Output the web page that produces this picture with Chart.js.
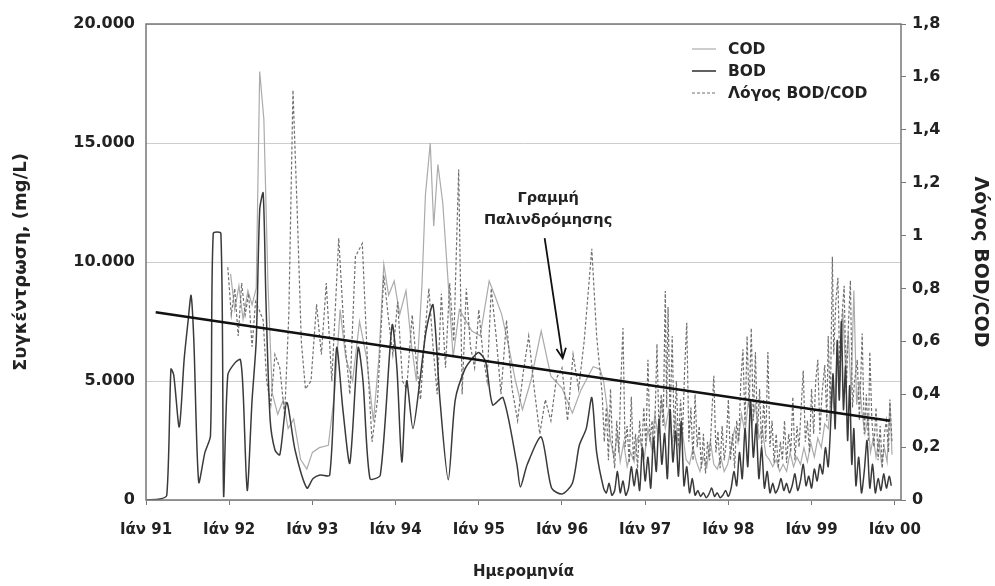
<!DOCTYPE html>
<html>
<head>
<meta charset="utf-8">
<script src="https://cdn.jsdelivr.net/npm/chart.js@4.4.0/dist/chart.umd.min.js"></script>
<style>
  html, body { margin: 0; padding: 0; background: #fff; }
</style>
</head>
<body>
<canvas id="chart" width="995" height="586"></canvas>
<script>
// x values are months since Jan 1991
const yearTicks = [0, 12, 24, 36, 48, 60, 72, 84, 96, 108];
const yearLabels = ['Ιάν 91', 'Ιάν 92', 'Ιάν 93', 'Ιάν 94', 'Ιάν 95', 'Ιάν 96', 'Ιάν 97', 'Ιάν 98', 'Ιάν 99', 'Ιάν 00'];
const concTicks = [0, 5000, 10000, 15000, 20000];
const concLabels = ['0', '5.000', '10.000', '15.000', '20.000'];
const ratioTicks = [0, 0.2, 0.4, 0.6, 0.8, 1, 1.2, 1.4, 1.6, 1.8];
const ratioLabels = ['0', '0,2', '0,4', '0,6', '0,8', '1', '1,2', '1,4', '1,6', '1,8'];

// COD (mg/L), 1992 - mid 1996
const codMonthsA = [12.2, 12.8, 13.4, 14.0, 14.7, 15.3, 15.9, 16.4, 17.0, 17.6, 18.2, 19.0, 19.8, 20.5, 21.3, 22.3, 23.2, 24.0, 25.0, 26.3,
  27.2, 28.0, 28.8, 29.8, 30.8, 31.8, 32.8, 33.6, 34.3, 35.0, 35.8, 36.6, 37.5, 38.3, 39.0, 39.8, 40.3, 41.0, 41.5, 42.1,
  42.8, 43.5, 44.3, 45.2, 46.0, 47.0, 48.2, 49.5, 50.3, 51.3, 52.2, 53.3, 54.3, 55.5, 57.0, 58.4, 60.0, 61.5, 62.7, 64.5, 65.5];
const codValuesA = [9500, 8000, 9000, 7600, 8800, 8200, 8900, 18000, 16000, 9000, 4500, 3600, 4200, 3000, 3400, 1700, 1300, 2000, 2200, 2300,
  4500, 8000, 6000, 5000, 7500, 6000, 3300, 6000, 9900, 8600, 9200, 7800, 8800, 6500, 5000, 9000, 12800, 15000, 11500, 14100,
  12500, 9500, 6000, 8000, 7600, 7100, 6900, 9200, 8600, 7800, 6600, 5000, 3800, 5000, 7100, 5200, 4700, 3650, 4600, 5600, 5500];
// COD (mg/L), mid 1996 - 2000
const codMonthsB = [66.0, 66.5, 67.0, 67.5, 68.0, 68.4, 68.9, 69.4, 69.9, 70.4, 70.9, 71.4, 71.9, 72.4, 72.9, 73.4, 73.9, 74.4, 74.9, 75.4,
  75.9, 76.4, 76.9, 77.4, 77.9, 78.4, 78.9, 79.4, 79.9, 80.4, 80.9, 81.4, 81.9, 82.4, 82.9, 83.4, 83.9, 84.4, 84.9, 85.4,
  85.9, 86.4, 86.9, 87.4, 87.9, 88.4, 88.9, 89.4, 89.9, 90.4, 90.9, 91.4, 91.9, 92.4, 92.9, 93.4, 93.9, 94.4, 94.9, 95.4,
  95.9, 96.4, 96.9, 97.4, 97.9, 98.4, 98.9, 99.3, 99.7, 100.1, 100.5, 100.9, 101.3, 101.7, 102.1, 102.5, 102.9, 103.3, 103.7, 104.1,
  104.5, 104.9, 105.3, 105.7, 106.1, 106.5, 106.9, 107.3, 107.6];
const codValuesB = [5000, 3900, 2500, 1800, 2800, 1600, 2400, 1400, 2000, 1600, 2600, 2400, 1800, 3000, 2200, 3600, 2600, 4200, 3000, 3800,
  2400, 3400, 2000, 2800, 1700, 1500, 2200, 1600, 1200, 1800, 1400, 2500, 1500, 1300, 1800, 1200, 1500, 2200, 3000, 2400,
  3600, 2800, 4200, 3200, 4000, 2600, 3000, 1900, 1700, 1400, 1700, 1200, 1500, 1200, 2000, 1400, 1800, 1500, 2200, 1600,
  2400, 1800, 2600, 2200, 3200, 3000, 4600, 3800, 6300, 5200, 8000, 5500, 7000, 4500, 8800, 4000, 5000, 3600, 2800, 3400,
  2000, 2600, 1800, 2500, 1500, 2200, 1600, 4100, 1900];

// BOD (mg/L), 1991 - mid 1996
const bodMonthsA = [0, 2, 3, 3.6, 4.0, 4.8, 5.5, 6.1, 6.5, 6.9, 7.6, 8.5, 9.3, 9.7, 10.8, 11.2, 11.8, 12.8, 13.6, 14.0,
  14.6, 15.3, 15.9, 16.4, 16.9, 17.3, 17.9, 18.6, 19.3, 20.3, 21.5, 23.2, 24.1, 25.1, 26.5, 27.5, 28.4, 29.4, 30.6, 31.3,
  32.3, 33.8, 35.5, 36.2, 36.9, 37.6, 38.5, 39.5, 40.4, 41.4, 42.4, 43.6, 44.6, 46.0, 47.2, 48.0, 49.0, 50.0, 51.5, 53.5,
  54.0, 55.0, 57.0, 58.5, 60.0, 61.5, 62.5, 63.5, 64.3, 65.0];
const bodValuesA = [0, 40, 200, 5500, 5250, 3070, 5900, 7600, 8600, 6700, 750, 2000, 2700, 11200, 11200, 150, 5250, 5750, 5900, 4600,
  400, 4200, 6700, 12200, 12900, 8400, 3400, 2100, 1900, 4100, 2100, 500, 900, 1050, 1050, 6400, 3800, 1550, 6400, 5000,
  900, 1050, 7350, 5500, 1600, 5000, 3000, 5000, 7100, 8200, 4200, 850, 4200, 5500, 6000, 6200, 5800, 4000, 4300, 1500,
  550, 1500, 2650, 500, 250, 700, 2300, 3000, 4300, 2000];
// BOD (mg/L), mid 1996 - 2000
const bodMonthsB = [66.0, 66.4, 66.8, 67.2, 67.6, 68.0, 68.4, 68.8, 69.2, 69.6, 70.0, 70.4, 70.8, 71.2, 71.6, 72.0, 72.4, 72.8, 73.2, 73.6,
  74.0, 74.4, 74.8, 75.2, 75.6, 76.0, 76.4, 76.8, 77.2, 77.6, 78.0, 78.4, 78.8, 79.2, 79.6, 80.0, 80.4, 80.8, 81.2, 81.6,
  82.0, 82.4, 82.8, 83.2, 83.6, 84.0, 84.4, 84.8, 85.2, 85.6, 86.0, 86.4, 86.8, 87.2, 87.6, 88.0, 88.4, 88.8, 89.2, 89.6,
  90.0, 90.4, 90.8, 91.2, 91.6, 92.0, 92.4, 92.8, 93.2, 93.6, 94.0, 94.4, 94.8, 95.2, 95.6, 96.0, 96.4, 96.8, 97.2, 97.6,
  98.0, 98.4, 98.8, 99.1, 99.4, 99.7, 100.0, 100.3, 100.6, 100.9, 101.2, 101.5, 101.8, 102.1, 102.4, 102.8, 103.2, 103.6, 104.0, 104.4,
  104.8, 105.2, 105.6, 106.0, 106.4, 106.8, 107.2, 107.5];
const bodValuesB = [500, 300, 700, 200, 400, 1200, 300, 800, 200, 500, 1400, 600, 1300, 400, 2200, 800, 1800, 500, 2600, 1200,
  3400, 1500, 2800, 900, 3800, 1600, 2900, 1000, 3300, 600, 1400, 300, 900, 200, 400, 150, 300, 100, 250, 500,
  150, 300, 100, 200, 400, 150, 500, 1200, 600, 2000, 900, 3000, 1400, 4200, 1800, 3200, 900, 2200, 500, 1200,
  300, 700, 300, 500, 900, 400, 700, 300, 600, 1100, 400, 800, 1500, 600, 1000, 500, 1300, 800, 1500, 1100,
  2200, 1400, 3500, 5300, 3000, 6700, 4200, 7500, 3800, 5600, 2500, 4800, 1500, 3000, 600, 1800, 300, 1200, 2500, 500,
  1500, 300, 900, 400, 1100, 500, 1000, 600];

// BOD/COD ratio (right axis), 1992 - mid 1996
const ratioMonthsA = [11.8, 12.3, 12.8, 13.3, 13.8, 14.3, 14.8, 15.3, 15.8, 16.3, 16.9, 17.4, 18.0, 18.6, 19.3, 20.0, 20.6, 21.2, 21.8, 22.4,
  23.0, 23.8, 24.6, 25.3, 26.0, 26.8, 27.8, 28.6, 29.4, 30.2, 31.2, 31.9, 32.6, 33.4, 34.3, 35.0, 35.6, 36.3, 37.0, 37.6,
  38.4, 39.0, 39.6, 40.2, 40.8, 41.4, 42.0, 42.6, 43.2, 43.8, 44.4, 45.1, 45.6, 46.2, 46.8, 47.4, 48.0, 48.6, 49.2, 49.8,
  50.5, 51.2, 52.0, 52.8, 53.6, 54.4, 55.2, 56.0, 56.8, 57.6, 58.4, 59.2, 60.0, 60.8, 61.6, 62.4, 63.2, 64.3, 65.0];
const ratioValuesA = [0.88, 0.70, 0.80, 0.62, 0.82, 0.70, 0.78, 0.58, 0.75, 0.72, 0.68, 0.45, 0.36, 0.55, 0.50, 0.32, 0.70, 1.55, 1.10, 0.60,
  0.42, 0.45, 0.74, 0.55, 0.82, 0.45, 0.99, 0.62, 0.40, 0.92, 0.97, 0.55, 0.22, 0.38, 0.85, 0.68, 0.55, 0.75, 0.45, 0.42,
  0.70, 0.52, 0.38, 0.62, 0.80, 0.58, 0.40, 0.78, 0.50, 0.82, 0.60, 1.25, 0.40, 0.80, 0.58, 0.50, 0.72, 0.55, 0.45, 0.80,
  0.62, 0.40, 0.68, 0.42, 0.30, 0.48, 0.62, 0.42, 0.25, 0.38, 0.30, 0.46, 0.50, 0.30, 0.55, 0.42, 0.60, 0.95, 0.62];
// BOD/COD ratio, mid 1996 - 2000
const ratioMonthsB = [65.8, 66.1, 66.4, 66.7, 67.0, 67.3, 67.6, 67.9, 68.2, 68.5, 68.8, 69.1, 69.4, 69.7, 70.0, 70.3, 70.6, 70.9, 71.2, 71.5,
  71.8, 72.1, 72.4, 72.7, 73.0, 73.3, 73.7, 74.0, 74.3, 74.6, 74.9, 75.1, 75.3, 75.6, 75.9, 76.2, 76.5, 76.8, 77.1, 77.4,
  77.7, 78.0, 78.3, 78.6, 78.9, 79.2, 79.5, 79.8, 80.1, 80.4, 80.7, 81.0, 81.3, 81.6, 81.9, 82.2, 82.5, 82.8, 83.1, 83.4,
  83.7, 84.0, 84.3, 84.6, 84.9, 85.2, 85.5, 85.8, 86.1, 86.4, 86.7, 87.0, 87.3, 87.6, 87.9, 88.2, 88.5, 88.8, 89.1, 89.4,
  89.7, 90.0, 90.3, 90.6, 90.9, 91.2, 91.5, 91.8, 92.1, 92.4, 92.7, 93.0, 93.3, 93.6, 93.9, 94.2, 94.5, 94.8, 95.1, 95.4,
  95.7, 96.0, 96.3, 96.6, 96.9, 97.2, 97.5, 97.9, 98.2, 98.4, 98.7, 99.0, 99.2, 99.5, 99.8, 100.1, 100.4, 100.7, 101.0, 101.3,
  101.6, 101.9, 102.2, 102.6, 102.9, 103.3, 103.6, 103.9, 104.2, 104.4, 104.7, 105.0, 105.3, 105.6, 105.9, 106.2, 106.5, 106.8, 107.1, 107.3,
  107.6];
const ratioValuesB = [0.40, 0.22, 0.35, 0.15, 0.42, 0.20, 0.12, 0.30, 0.18, 0.45, 0.65, 0.20, 0.28, 0.14, 0.39, 0.15, 0.25, 0.12, 0.30, 0.18,
  0.35, 0.20, 0.53, 0.22, 0.30, 0.18, 0.59, 0.25, 0.40, 0.28, 0.79, 0.35, 0.73, 0.30, 0.62, 0.22, 0.45, 0.20, 0.38, 0.25,
  0.50, 0.67, 0.22, 0.35, 0.15, 0.40, 0.20, 0.28, 0.12, 0.25, 0.10, 0.22, 0.15, 0.32, 0.47, 0.18, 0.26, 0.12, 0.28, 0.15,
  0.22, 0.38, 0.15, 0.25, 0.12, 0.30, 0.22, 0.45, 0.57, 0.28, 0.62, 0.35, 0.65, 0.30, 0.56, 0.25, 0.42, 0.20, 0.38, 0.22,
  0.56, 0.20, 0.30, 0.14, 0.25, 0.12, 0.22, 0.15, 0.30, 0.14, 0.25, 0.18, 0.39, 0.15, 0.28, 0.20, 0.35, 0.49, 0.22, 0.30,
  0.18, 0.42, 0.25, 0.45, 0.53, 0.25, 0.40, 0.51, 0.30, 0.62, 0.35, 0.92, 0.55, 0.75, 0.84, 0.45, 0.70, 0.81, 0.40, 0.65,
  0.83, 0.35, 0.45, 0.53, 0.30, 0.63, 0.25, 0.40, 0.22, 0.56, 0.30, 0.20, 0.35, 0.15, 0.28, 0.12, 0.25, 0.30, 0.18, 0.38,
  0.22];

// regression line of the ratio (right axis)
const trendMonths = [1.4, 107.3];
const trendValues = [0.71, 0.30];

// annotation: label anchor and arrow, in (month, mg/L)
const noteLines = ['Γραμμή', 'Παλινδρόμησης'];
const noteAt = [58.0, 12700];
const arrowFrom = [57.5, 11000];
const arrowTo = [60.1, 5960];

const FONT = '"DejaVu Sans", "Liberation Sans", Arial, sans-serif';
const TEXT = '#222';
const yTickFont = { family: FONT, size: 16, weight: 'bold' };
const xTickFont = { family: FONT, size: 15, weight: 'bold' };

function pts(xs, ys) {
  return xs.map((x, i) => ({ x: x, y: ys[i] }));
}

const COD_COLOR = '#ababab';
const BOD_COLOR = '#3a3a3a';
const RATIO_COLOR = '#707070';

const legendItems = [
  { text: 'COD', color: COD_COLOR, width: 1.2, dash: [] },
  { text: 'BOD', color: BOD_COLOR, width: 1.6, dash: [] },
  { text: 'Λόγος BOD/COD', color: RATIO_COLOR, width: 1.2, dash: [3, 2] }
];

// frame, legend and the regression note
const extras = {
  id: 'extras',
  afterDatasetsDraw(chart) {
    const { ctx, chartArea: a, scales } = chart;
    ctx.save();
    ctx.strokeStyle = '#777';
    ctx.lineWidth = 1.5;
    ctx.strokeRect(a.left, a.top, a.right - a.left, a.bottom - a.top);

    // note text
    ctx.fillStyle = TEXT;
    ctx.font = 'bold 14.5px ' + FONT;
    ctx.textAlign = 'center';
    ctx.textBaseline = 'middle';
    const nx = scales.x.getPixelForValue(noteAt[0]);
    const ny = scales.y.getPixelForValue(noteAt[1]);
    noteLines.forEach((t, i) => ctx.fillText(t, nx, ny + i * 22));

    // arrow
    const x1 = scales.x.getPixelForValue(arrowFrom[0]), y1 = scales.y.getPixelForValue(arrowFrom[1]);
    const x2 = scales.x.getPixelForValue(arrowTo[0]), y2 = scales.y.getPixelForValue(arrowTo[1]);
    ctx.strokeStyle = '#111';
    ctx.lineWidth = 1.8;
    ctx.beginPath();
    ctx.moveTo(x1, y1);
    ctx.lineTo(x2, y2);
    const ang = Math.atan2(y2 - y1, x2 - x1);
    ctx.moveTo(x2 - 11 * Math.cos(ang - 0.45), y2 - 11 * Math.sin(ang - 0.45));
    ctx.lineTo(x2, y2);
    ctx.lineTo(x2 - 11 * Math.cos(ang + 0.45), y2 - 11 * Math.sin(ang + 0.45));
    ctx.stroke();

    // legend
    ctx.textAlign = 'left';
    ctx.font = 'bold 15.5px ' + FONT;
    legendItems.forEach((it, i) => {
      const ly = a.top + 25 + i * 22;
      ctx.strokeStyle = it.color;
      ctx.lineWidth = it.width;
      ctx.setLineDash(it.dash);
      ctx.beginPath();
      ctx.moveTo(a.right - 209, ly);
      ctx.lineTo(a.right - 185, ly);
      ctx.stroke();
      ctx.setLineDash([]);
      ctx.fillStyle = TEXT;
      ctx.fillText(it.text, a.right - 173, ly + 1);
    });
    ctx.restore();
  }
};

new Chart(document.getElementById('chart'), {
  type: 'line',
  data: {
    datasets: [
      {
        label: 'Γραμμή Παλινδρόμησης',
        data: pts(trendMonths, trendValues),
        yAxisID: 'y2',
        borderColor: '#111',
        borderWidth: 2.6,
        pointRadius: 0
      },
      {
        label: 'BOD',
        data: pts(bodMonthsA.concat(bodMonthsB), bodValuesA.concat(bodValuesB)),
        yAxisID: 'y',
        borderColor: BOD_COLOR,
        borderWidth: 1.5,
        pointRadius: 0,
        tension: 0.25
      },
      {
        label: 'Λόγος BOD/COD',
        data: pts(ratioMonthsA.concat(ratioMonthsB), ratioValuesA.concat(ratioValuesB)),
        yAxisID: 'y2',
        borderColor: RATIO_COLOR,
        borderWidth: 1.2,
        borderDash: [3, 2],
        pointRadius: 0
      },
      {
        label: 'COD',
        data: pts(codMonthsA.concat(codMonthsB), codValuesA.concat(codValuesB)),
        yAxisID: 'y',
        borderColor: COD_COLOR,
        borderWidth: 1.2,
        pointRadius: 0
      }
    ]
  },
  options: {
    responsive: false,
    animation: false,
    layout: { padding: { top: 24, left: 0, right: 0, bottom: 0 } },
    plugins: {
      legend: { display: false },
      tooltip: { enabled: false }
    },
    scales: {
      x: {
        type: 'linear',
        min: 0,
        max: 108.9,
        afterBuildTicks: s => { s.ticks = yearTicks.map(v => ({ value: v })); },
        afterFit: s => { s.height = 86; },
        grid: { drawOnChartArea: false, drawTicks: true, tickLength: 5, color: '#777' },
        border: { display: false },
        ticks: {
          padding: 16, maxRotation: 0, autoSkip: false,
          font: xTickFont, color: TEXT,
          callback: (v, i) => yearLabels[i]
        },
        title: { display: true, text: 'Ημερομηνία', font: { family: FONT, size: 15, weight: 'bold' }, color: TEXT, padding: { top: 0, bottom: 5 } }
      },
      y: {
        position: 'left',
        min: 0,
        max: 20000,
        afterBuildTicks: s => { s.ticks = concTicks.map(v => ({ value: v })); },
        afterFit: s => { s.width = 146; },
        grid: { drawTicks: false, color: '#cdcdcd', lineWidth: 1 },
        border: { display: false },
        ticks: { padding: 11, font: yTickFont, color: TEXT, callback: (v, i) => concLabels[i] },
        title: { display: true, text: 'Συγκέντρωση, (mg/L)', font: { family: FONT, size: 18, weight: 'bold' }, color: TEXT, padding: { top: 11, bottom: 0 } }
      },
      y2: {
        position: 'right',
        min: 0,
        max: 1.8,
        afterBuildTicks: s => { s.ticks = ratioTicks.map(v => ({ value: v })); },
        afterFit: s => { s.width = 94; },
        grid: { drawOnChartArea: false, drawTicks: true, tickLength: 5, color: '#777' },
        border: { display: false },
        ticks: { padding: 6, font: yTickFont, color: TEXT, callback: (v, i) => ratioLabels[i] },
        title: { display: true, text: 'Λόγος BOD/COD', font: { family: FONT, size: 19, weight: 'bold' }, color: TEXT, padding: { top: 4, bottom: 0 } }
      }
    }
  },
  plugins: [extras]
});
</script>
</body>
</html>
